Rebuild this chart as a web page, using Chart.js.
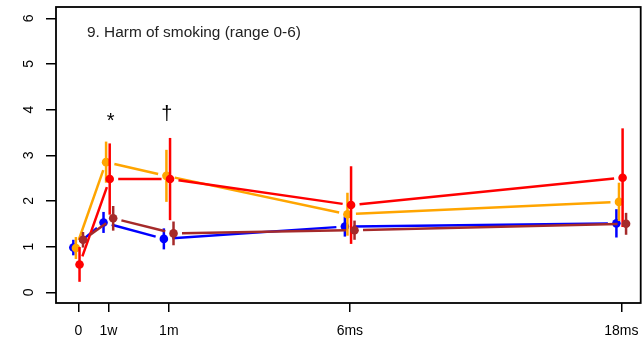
<!DOCTYPE html>
<html>
<head>
<meta charset="utf-8">
<script src="https://cdn.jsdelivr.net/npm/chart.js@4"></script>
<style>
  html, body { margin: 0; padding: 0; background: #fff; overflow: hidden; }
  #wrap { width: 642px; height: 340px; overflow: hidden; }
</style>
</head>
<body>
<div id="wrap"><canvas id="chart" width="645" height="340"></canvas></div>
<script>
// time points (plotted on a custom spaced axis)
const timeLabels = ['0', '1w', '1m', '6ms', '18ms'];
const timePos = [0, 1, 3, 9, 18];
const yTicks = [0, 1, 2, 3, 4, 5, 6];

// group means and half-width of the error bars
const blueMean = [0.98, 1.53, 1.17, 1.44, 1.51];
const blueErr = [0.17, 0.23, 0.23, 0.22, 0.31];
const orangeMean = [0.97, 2.85, 2.55, 1.71, 1.98];
const orangeErr = [0.24, 0.45, 0.57, 0.47, 0.42];
const redMean = [0.61, 2.48, 2.48, 1.91, 2.51];
const redErr = [0.38, 0.78, 0.9, 0.85, 1.08];
const brownMean = [1.15, 1.62, 1.29, 1.36, 1.50];
const brownErr = [0.17, 0.27, 0.26, 0.21, 0.24];

const FONT = "'Liberation Sans', Arial, Helvetica, sans-serif";

const series = [
  { name: 'blue', color: '#0000FF', mean: blueMean, err: blueErr, dodge: -0.165 },
  { name: 'orange', color: '#FFA500', mean: orangeMean, err: orangeErr, dodge: -0.08 },
  { name: 'red', color: '#FF0000', mean: redMean, err: redErr, dodge: 0.04 },
  { name: 'brown', color: '#A52A2A', mean: brownMean, err: brownErr, dodge: 0.155 },
];

// lines with gaps round the points (like R type="b") + vertical error bars
const barsAndLines = {
  id: 'barsAndLines',
  beforeDatasetDraw(chart, args) {
    const s = series[args.index];
    const pts = args.meta.data;
    const yScale = chart.scales.y;
    const ctx = chart.ctx;
    const gap = 8.5;
    ctx.save();
    ctx.strokeStyle = s.color;
    ctx.lineWidth = 2.5;
    ctx.lineCap = 'butt';
    for (let i = 0; i < pts.length - 1; i++) {
      const a = pts[i], b = pts[i + 1];
      const dx = b.x - a.x, dy = b.y - a.y;
      const len = Math.hypot(dx, dy);
      if (len <= 2 * gap) continue;
      const ux = dx / len, uy = dy / len;
      ctx.beginPath();
      ctx.moveTo(a.x + ux * gap, a.y + uy * gap);
      ctx.lineTo(b.x - ux * gap, b.y - uy * gap);
      ctx.stroke();
    }
    pts.forEach((p, i) => {
      ctx.beginPath();
      ctx.moveTo(p.x, yScale.getPixelForValue(s.mean[i] - s.err[i]));
      ctx.lineTo(p.x, yScale.getPixelForValue(s.mean[i] + s.err[i]));
      ctx.stroke();
    });
    ctx.restore();
  }
};

// frame, title and significance marks
const decorations = {
  id: 'decorations',
  afterDraw(chart) {
    const { ctx, chartArea: ca, scales } = chart;
    ctx.save();
    ctx.strokeStyle = '#000';
    ctx.lineWidth = 1.8;
    ctx.strokeRect(ca.left, ca.top, ca.right - ca.left, ca.bottom - ca.top);

    ctx.fillStyle = '#222';
    ctx.font = '15.4px ' + FONT;
    ctx.textAlign = 'left';
    ctx.textBaseline = 'middle';
    ctx.fillText('9. Harm of smoking (range 0-6)', ca.left + 31, ca.top + 26);

    ctx.fillStyle = '#000';
    ctx.font = '20px ' + FONT;
    ctx.textAlign = 'center';
    ctx.textBaseline = 'alphabetic';
    ctx.fillText('*', scales.x.getPixelForValue(1.075), scales.y.getPixelForValue(3.63));
    ctx.fillText('\u2020', scales.x.getPixelForValue(2.93), scales.y.getPixelForValue(3.78));
    ctx.restore();
  }
};

new Chart(document.getElementById('chart'), {
  type: 'scatter',
  data: {
    datasets: series.map((s, k) => ({
      label: s.name,
      data: timePos.map((t, i) => ({ x: t + s.dodge, y: s.mean[i] })),
      backgroundColor: s.color,
      borderColor: s.color,
      borderWidth: 0,
      pointRadius: 4.3,
      showLine: false,
      order: series.length - k,
    })),
  },
  options: {
    responsive: false,
    animation: false,
    devicePixelRatio: 1,
    layout: { padding: { top: 7, right: 0, left: 0, bottom: 0 } },
    plugins: { legend: { display: false }, tooltip: { enabled: false } },
    scales: {
      x: {
        type: 'linear',
        min: -0.74,
        max: 18.64,
        afterBuildTicks: (s) => { s.ticks = timePos.map(v => ({ value: v })); },
        afterFit: (s) => { s.height = 37; s.paddingLeft = 0; s.paddingRight = 0; },
        border: { display: false },
        grid: { drawOnChartArea: false, drawTicks: true, tickLength: 9, color: '#000', lineWidth: 1.5 },
        ticks: {
          autoSkip: false,
          maxRotation: 0,
          padding: 11,
          color: '#000',
          font: { family: FONT, size: 14 },
          callback: (v, i) => timeLabels[i],
        },
      },
      y: {
        min: -0.234,
        max: 6.247,
        afterBuildTicks: (s) => { s.ticks = yTicks.map(v => ({ value: v })); },
        afterFit: (s) => { s.width = 56; s.paddingTop = 0; s.paddingBottom = 0; },
        border: { display: false },
        grid: { drawOnChartArea: false, drawTicks: true, tickLength: 10, color: '#000', lineWidth: 1.5 },
        ticks: {
          minRotation: 90,
          maxRotation: 90,
          crossAlign: 'center',
          padding: 13,
          color: '#000',
          font: { family: FONT, size: 14 },
          callback: (v) => String(v),
        },
      },
    },
  },
  plugins: [barsAndLines, decorations],
});
</script>
</body>
</html>
